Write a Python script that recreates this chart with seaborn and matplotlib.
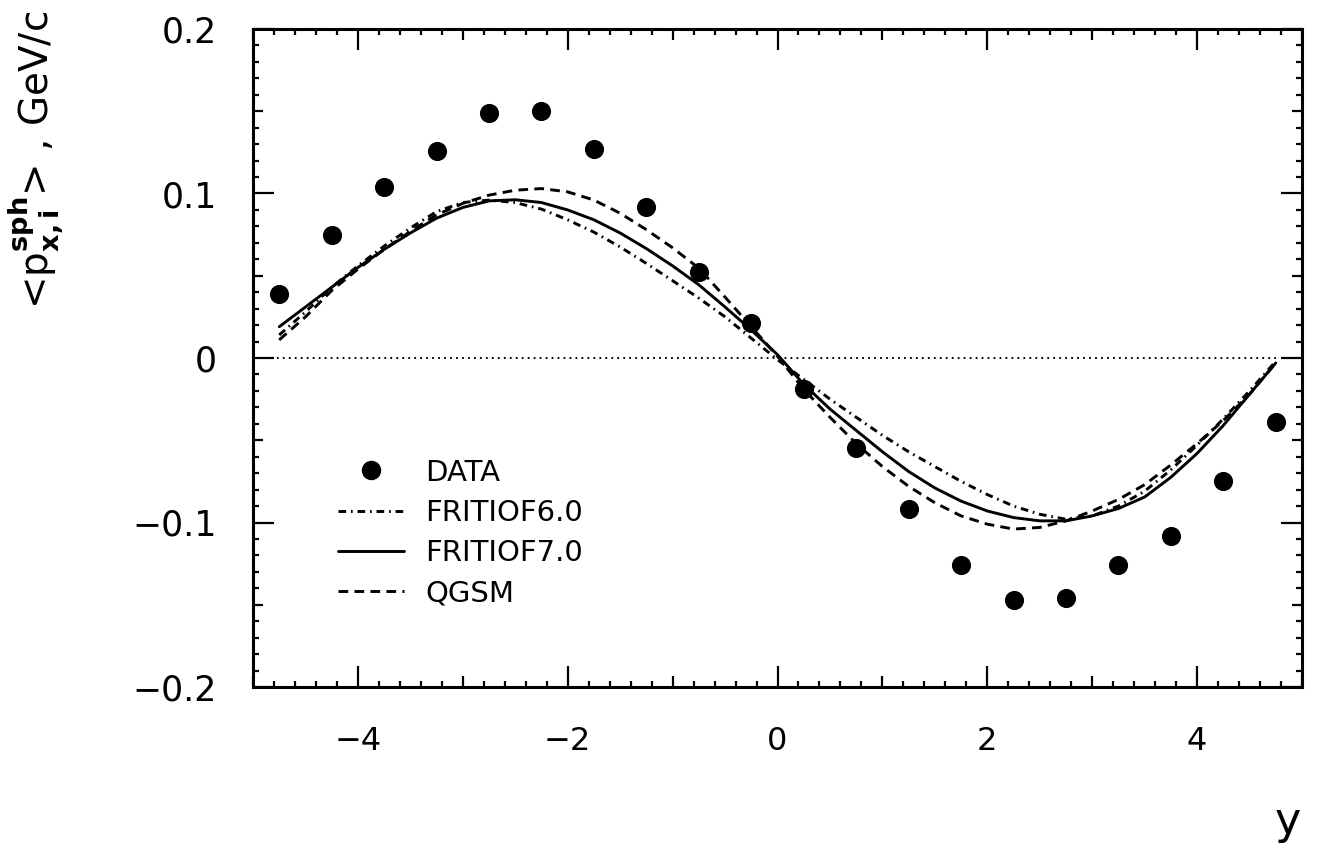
import numpy as np
import pandas as pd
import matplotlib
matplotlib.use('Agg')
import matplotlib.pyplot as plt
from matplotlib.lines import Line2D
from matplotlib.ticker import MultipleLocator, FuncFormatter
import seaborn as sns

# measured points (bin centres in y)
data_x = [-4.75, -4.25, -3.75, -3.25, -2.75, -2.25, -1.75, -1.25, -0.75, -0.25,
          0.25, 0.75, 1.25, 1.75, 2.25, 2.75, 3.25, 3.75, 4.25, 4.75]
data_y = [0.039, 0.075, 0.104, 0.126, 0.149, 0.150, 0.127, 0.092, 0.052, 0.021,
          -0.019, -0.055, -0.092, -0.126, -0.147, -0.146, -0.126, -0.108, -0.075, -0.039]

# model curves, read every 0.25 in y
curve_x = np.arange(-4.75, 4.76, 0.25)
fritiof6_y = [0.014, 0.028, 0.043, 0.056, 0.068, 0.079, 0.089, 0.0945, 0.096, 0.0945,
              0.0905, 0.0840, 0.0765, 0.0675, 0.0575, 0.047, 0.0364, 0.025, 0.012, -0.001,
              -0.013, -0.025, -0.036, -0.047, -0.057, -0.066, -0.075, -0.083, -0.090, -0.095,
              -0.098, -0.096, -0.090, -0.081, -0.068, -0.053, -0.037, -0.020, -0.002]
fritiof7_y = [0.019, 0.031, 0.043, 0.055, 0.066, 0.076, 0.085, 0.0915, 0.0955, 0.0962,
              0.0945, 0.0900, 0.0840, 0.0760, 0.0665, 0.0560, 0.0445, 0.031, 0.017, 0.002,
              -0.016, -0.031, -0.044, -0.057, -0.069, -0.079, -0.087, -0.093, -0.097, -0.099,
              -0.099, -0.096, -0.0915, -0.0845, -0.0725, -0.058, -0.041, -0.022, -0.003]
qgsm_y = [0.011, 0.025, 0.041, 0.054, 0.066, 0.077, 0.087, 0.094, 0.099, 0.102,
          0.103, 0.101, 0.096, 0.088, 0.078, 0.067, 0.0546, 0.037, 0.019, 0.001,
          -0.019, -0.036, -0.052, -0.066, -0.078, -0.088, -0.096, -0.101, -0.104, -0.103,
          -0.099, -0.093, -0.086, -0.077, -0.065, -0.052, -0.038, -0.022, -0.003]
zero_x = [-5.0, 4.75]
zero_y = [0.0, 0.0]

legend_labels = ['DATA', 'FRITIOF6.0', 'FRITIOF7.0', 'QGSM']

sns.set_style('ticks')
plt.rcParams['font.family'] = ['DejaVu Sans']
plt.rcParams['mathtext.fontset'] = 'dejavusans'
plt.rcParams['lines.scale_dashes'] = False
for key in ['text.color', 'axes.labelcolor', 'xtick.color', 'ytick.color', 'axes.edgecolor']:
    plt.rcParams[key] = 'black'

fig = plt.figure(figsize=(13.17, 8.49), dpi=100)
ax = fig.add_axes([253 / 1317, 1 - 687 / 849, (1302 - 253) / 1317, (687 - 29) / 849])

dashdot = (0, (5.5, 3.5, 1.2, 3.5))
dashed = (0, (7, 4.5))

sns.lineplot(x=zero_x, y=zero_y, ax=ax, color='black', lw=1.4, linestyle=(0, (1.3, 3.0)))
sns.lineplot(x=curve_x, y=fritiof6_y, ax=ax, color='black', lw=2.1, linestyle=dashdot,
             sort=False, estimator=None)
sns.lineplot(x=curve_x, y=fritiof7_y, ax=ax, color='black', lw=2.1,
             sort=False, estimator=None)
sns.lineplot(x=curve_x, y=qgsm_y, ax=ax, color='black', lw=2.1, linestyle=dashed,
             sort=False, estimator=None)
sns.scatterplot(x=data_x, y=data_y, ax=ax, s=190, color='black', linewidth=0, zorder=5)

ax.set_xlim(-5, 5)
ax.set_ylim(-0.2, 0.2)

ax.xaxis.set_major_locator(MultipleLocator(1))
ax.xaxis.set_minor_locator(MultipleLocator(0.2))
ax.yaxis.set_major_locator(MultipleLocator(0.05))
ax.yaxis.set_minor_locator(MultipleLocator(0.01))


def xfmt(v, pos):
    k = int(round(v))
    if k % 2:
        return ''
    return str(k).replace('-', '\u2212')


def yfmt(v, pos):
    k = int(round(v * 100))
    if k % 10:
        return ''
    if k == 0:
        return '0'
    return ('%.1f' % v).replace('-', '\u2212')


ax.xaxis.set_major_formatter(FuncFormatter(xfmt))
ax.yaxis.set_major_formatter(FuncFormatter(yfmt))

ax.tick_params(which='both', direction='in', top=True, right=True, width=1.6, color='black')
ax.tick_params(which='minor', length=4.5)
ax.tick_params(which='major', length=15)
ax.tick_params(axis='x', which='major', labelsize=23, pad=28)
ax.tick_params(axis='y', which='major', labelsize=25, pad=26)

for sp in ax.spines.values():
    sp.set_linewidth(2.2)
    sp.set_color('black')

ax.set_xlabel('')
ax.set_ylabel('')

fig.text(0.027, 0.812, '<' + r'$\mathrm{p}^{\mathbf{sph}}_{\mathbf{x,i}}$' + '> , GeV/c',
         rotation=90, ha='center', va='center', fontsize=28)
fig.text(0.978, 0.032, 'y', ha='center', va='center', fontsize=32)

handles = [
    Line2D([], [], marker='o', ls='none', color='black', ms=13),
    Line2D([], [], color='black', lw=2.1, ls=dashdot),
    Line2D([], [], color='black', lw=2.1),
    Line2D([], [], color='black', lw=2.1, ls=dashed),
]
ax.legend(handles, legend_labels, loc='center left', bbox_to_anchor=(0.081, 0.234),
          frameon=False, fontsize=21, handlelength=2.25, handletextpad=0.75,
          labelspacing=0.42, borderpad=0, borderaxespad=0)

fig.canvas.draw()
for t in ax.xaxis.get_major_ticks():
    if int(round(t.get_loc())) % 2:
        t.tick1line.set_markersize(8)
        t.tick2line.set_markersize(8)
for t in ax.yaxis.get_major_ticks():
    if int(round(t.get_loc() * 100)) % 10:
        t.tick1line.set_markersize(7)
        t.tick2line.set_markersize(7)

fig.savefig('out.png', dpi=100, facecolor='white')
